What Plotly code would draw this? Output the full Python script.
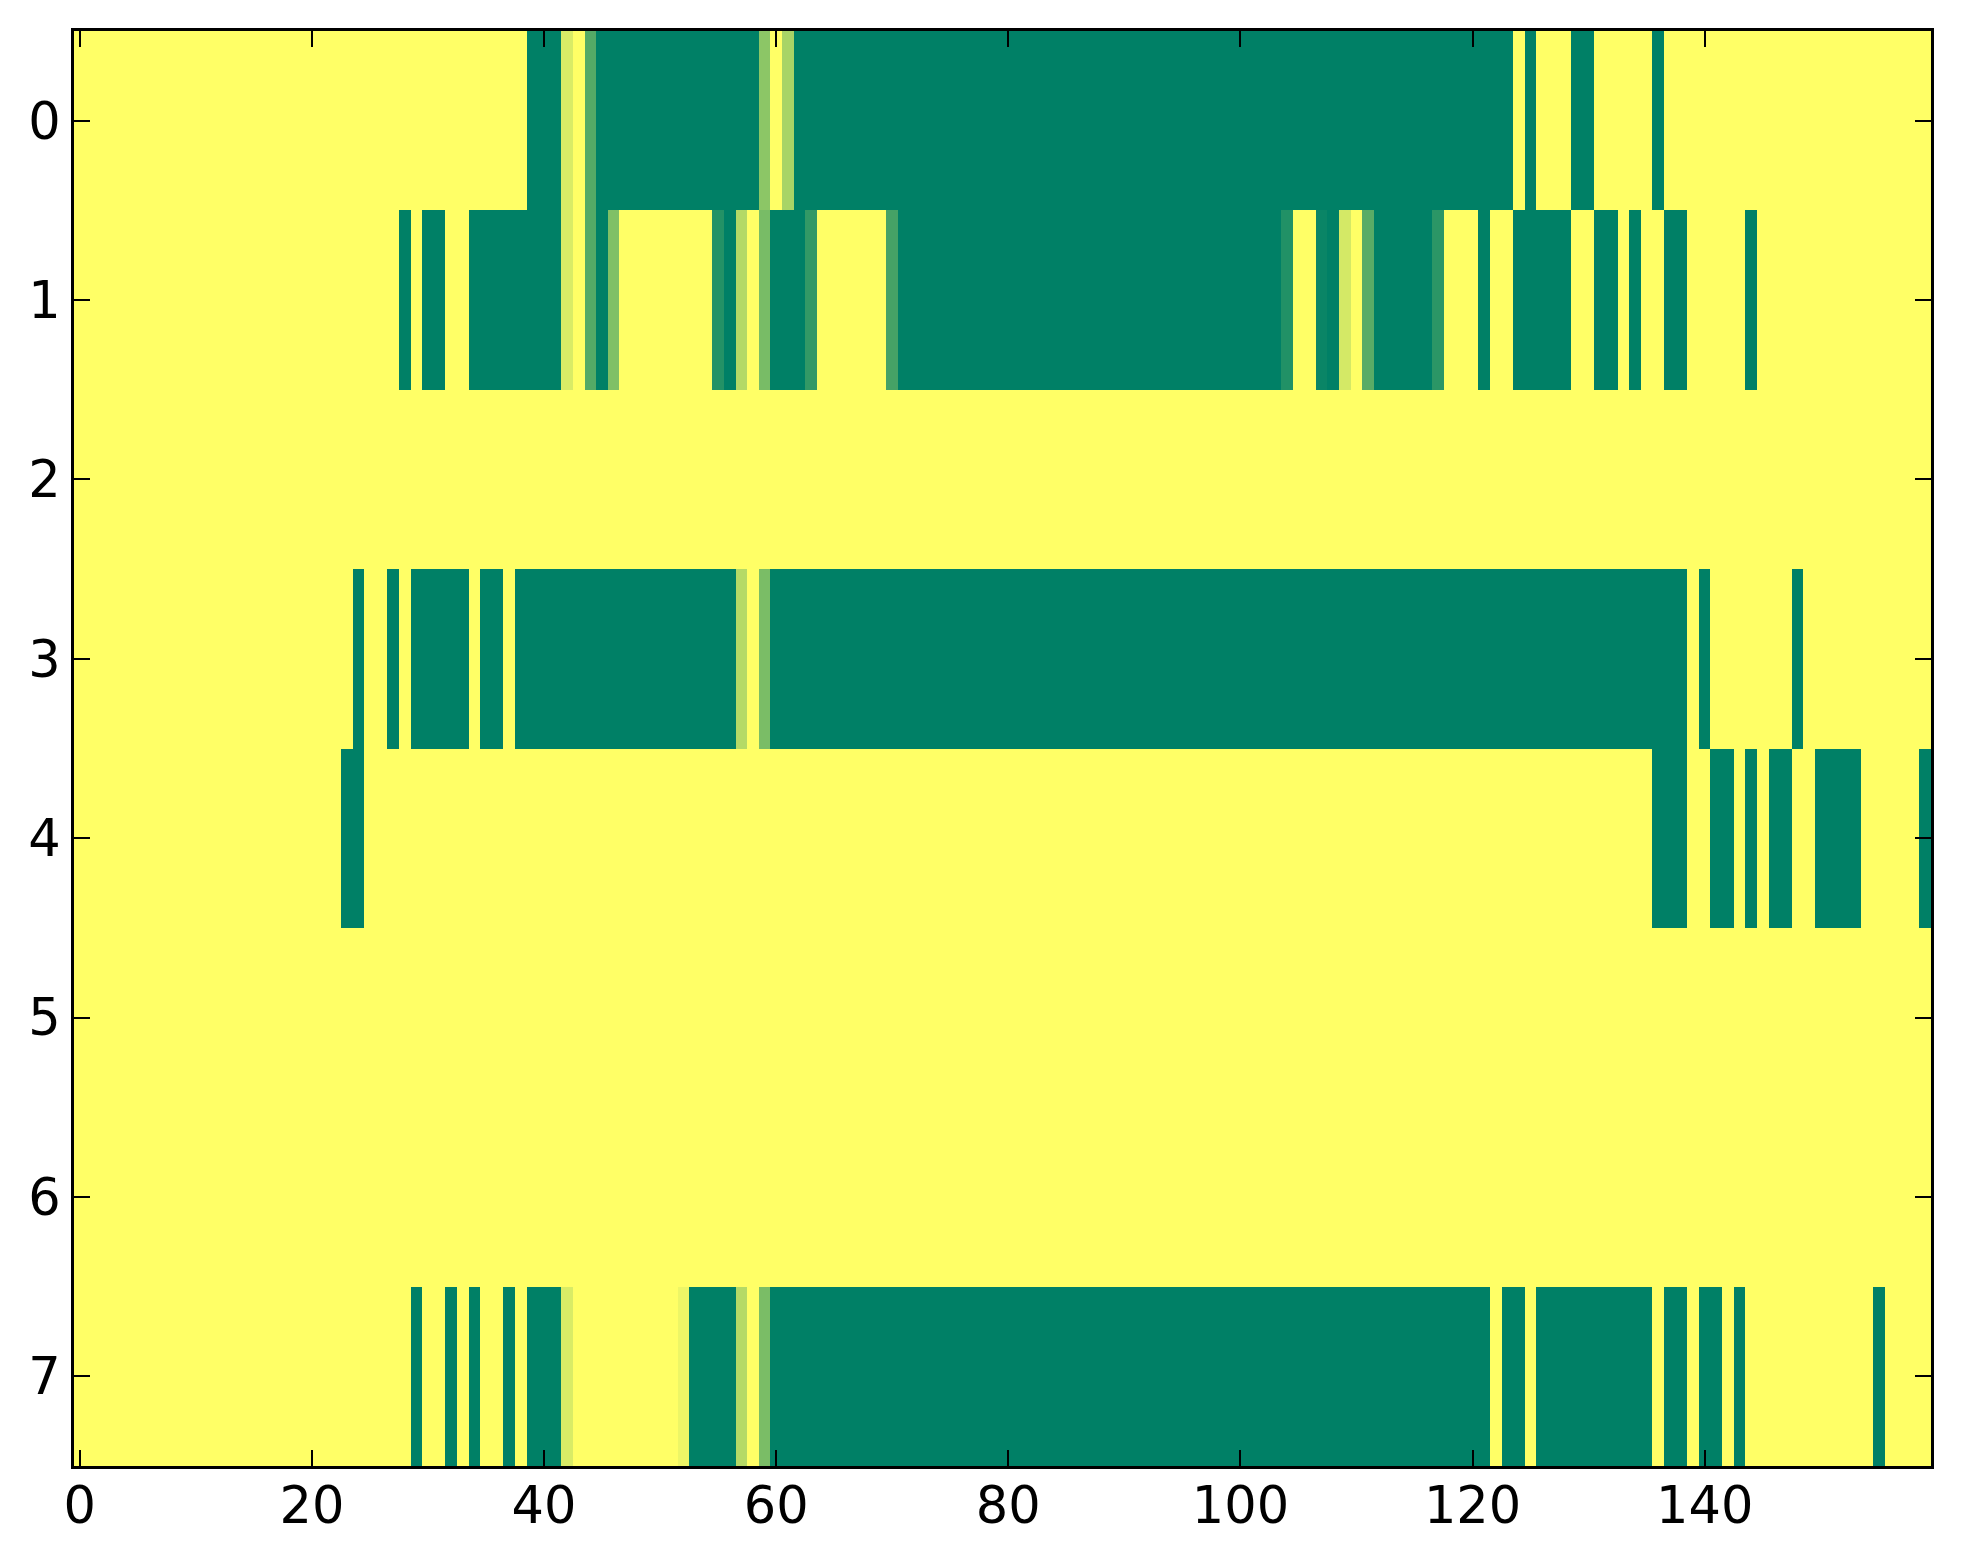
import plotly.graph_objects as go

# Each row of the image as (value, run length) pairs, read left to right.
# 1 = yellow end of the "summer" map, 0 = dark green end.
row_0 = [(1, 39), (0, 3), (0.85, 1), (1, 1), (0.33, 1), (0, 14), (0.55, 1), (1, 1),
         (0.66, 1), (0, 62), (1, 1), (0, 1), (1, 3), (0, 2), (1, 5), (0, 1), (1, 23)]
row_1 = [(1, 28), (0, 1), (1, 1), (0, 2), (1, 2), (0, 8), (0.85, 1), (1, 1), (0.33, 1),
         (0, 1), (0.5, 1), (1, 8), (0.14, 1), (0, 1), (0.7, 1), (1, 1), (0.47, 1),
         (0, 3), (0.2, 1), (1, 6), (0.27, 1), (0, 33), (0.13, 1), (1, 2), (0.04, 1),
         (0, 1), (0.83, 1), (1, 1), (0.35, 1), (0, 5), (0.17, 1), (1, 3), (0, 1),
         (1, 2), (0, 5), (1, 2), (0, 2), (1, 1), (0, 1), (1, 2), (0, 2), (1, 5),
         (0, 1), (1, 15)]
row_2 = [(1, 160)]
row_3 = [(1, 24), (0, 1), (1, 2), (0, 1), (1, 1), (0, 5), (1, 1), (0, 2), (1, 1),
         (0, 19), (0.71, 1), (1, 1), (0.48, 1), (0, 79), (1, 1), (0, 1), (1, 7),
         (0, 1), (1, 11)]
row_4 = [(1, 23), (0, 2), (1, 111), (0, 3), (1, 2), (0, 2), (1, 1), (0, 1), (1, 1),
         (0, 2), (1, 2), (0, 4), (1, 5), (0, 1)]
row_5 = [(1, 160)]
row_6 = [(1, 160)]
row_7 = [(1, 29), (0, 1), (1, 2), (0, 1), (1, 1), (0, 1), (1, 2), (0, 1), (1, 1),
         (0, 3), (0.85, 1), (1, 9), (0.93, 1), (0, 4), (0.71, 1), (1, 1), (0.48, 1),
         (0, 62), (1, 1), (0, 2), (1, 1), (0, 10), (1, 1), (0, 2), (1, 1), (0, 2),
         (1, 1), (0, 1), (1, 11), (0, 1), (1, 4)]

rows = [row_0, row_1, row_2, row_3, row_4, row_5, row_6, row_7]
x_ticks = [0, 20, 40, 60, 80, 100, 120, 140]
y_ticks = [0, 1, 2, 3, 4, 5, 6, 7]


def expand(runs):
    out = []
    for value, count in runs:
        out.extend([value] * count)
    return out


z = [expand(r) for r in rows]
n_cols = len(z[0])

# matplotlib "summer" colormap
summer = [[0.0, "rgb(0,128,102)"], [1.0, "rgb(255,255,102)"]]

fig = go.Figure(go.Heatmap(
    z=z,
    x=list(range(n_cols)),
    y=list(range(len(z))),
    colorscale=summer,
    zmin=0, zmax=1,
    showscale=False,
    hoverinfo="x+y+z",
))

axis_style = dict(
    showgrid=False, zeroline=False,
    showline=True, linecolor="black", linewidth=3, mirror="ticks",
    ticks="inside", ticklen=16, tickwidth=2, tickcolor="black",
    tickfont=dict(family="DejaVu Sans", size=51, color="black"),
)

# page body adds an 8px offset, margins compensate for it
fig.update_layout(
    width=1963, height=1564,
    margin=dict(l=66, r=40, t=23, b=106),
    paper_bgcolor="white", plot_bgcolor="white",
    showlegend=False,
)
fig.update_xaxes(range=[-0.5, n_cols - 0.5], tickvals=x_ticks,
                 ticklabelstandoff=-7, **axis_style)
fig.update_yaxes(range=[len(z) - 0.5, -0.5], tickvals=y_ticks, **axis_style)

fig.write_html("out.html")
